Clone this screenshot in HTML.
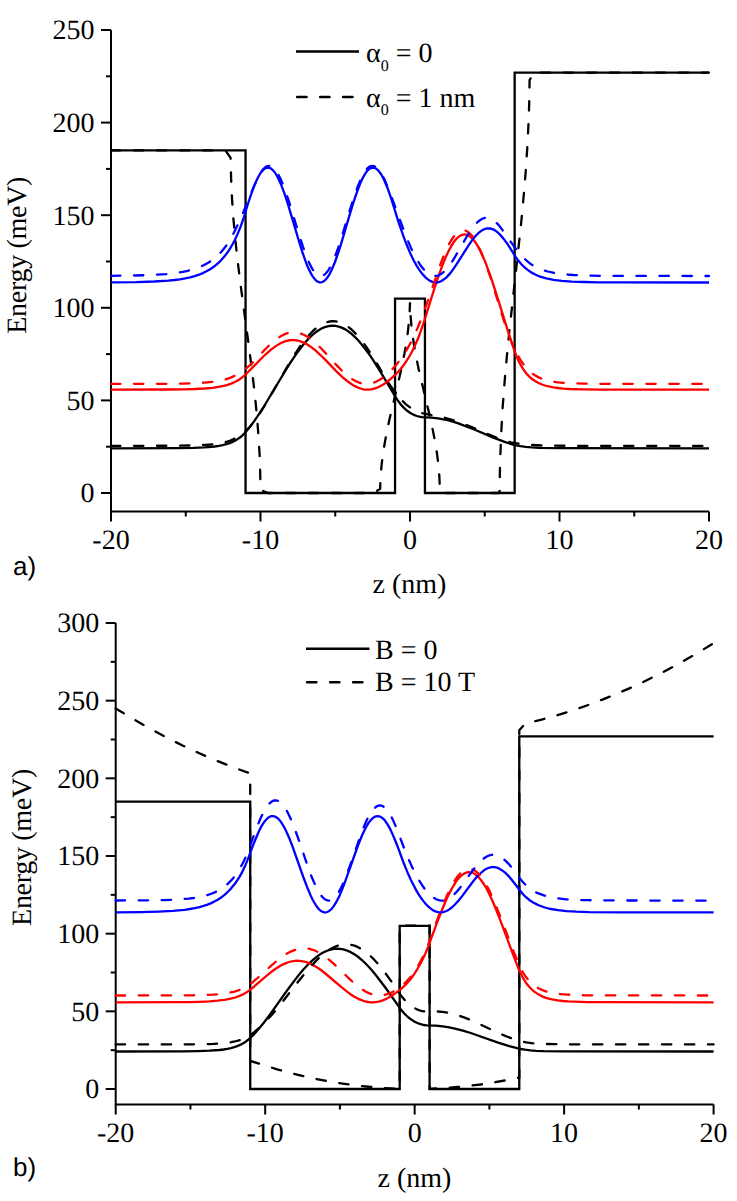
<!DOCTYPE html>
<html><head><meta charset="utf-8"><style>
html,body{margin:0;padding:0;background:#fff;}
svg{display:block;}
.t{text-rendering:geometricPrecision;font-family:"Liberation Serif",serif;font-size:28px;fill:#000;}
.s{text-rendering:geometricPrecision;font-family:"Liberation Sans",sans-serif;font-size:26px;fill:#000;}
</style></head><body>
<svg width="737" height="1201" viewBox="0 0 737 1201">
<rect width="737" height="1201" fill="#fff"/>
<path d="M111.00,30.00 L111.00,511.52 L709.00,511.52" fill="none" stroke="#000" stroke-width="2"/>
<line x1="101.00" y1="493.00" x2="111.00" y2="493.00" stroke="#000" stroke-width="2"/>
<text x="94.50" y="502.30" text-anchor="end" class="t">0</text>
<line x1="106.00" y1="446.70" x2="111.00" y2="446.70" stroke="#000" stroke-width="2"/>
<line x1="101.00" y1="400.40" x2="111.00" y2="400.40" stroke="#000" stroke-width="2"/>
<text x="94.50" y="409.70" text-anchor="end" class="t">50</text>
<line x1="106.00" y1="354.10" x2="111.00" y2="354.10" stroke="#000" stroke-width="2"/>
<line x1="101.00" y1="307.80" x2="111.00" y2="307.80" stroke="#000" stroke-width="2"/>
<text x="94.50" y="317.10" text-anchor="end" class="t">100</text>
<line x1="106.00" y1="261.50" x2="111.00" y2="261.50" stroke="#000" stroke-width="2"/>
<line x1="101.00" y1="215.20" x2="111.00" y2="215.20" stroke="#000" stroke-width="2"/>
<text x="94.50" y="224.50" text-anchor="end" class="t">150</text>
<line x1="106.00" y1="168.90" x2="111.00" y2="168.90" stroke="#000" stroke-width="2"/>
<line x1="101.00" y1="122.60" x2="111.00" y2="122.60" stroke="#000" stroke-width="2"/>
<text x="94.50" y="131.90" text-anchor="end" class="t">200</text>
<line x1="106.00" y1="76.30" x2="111.00" y2="76.30" stroke="#000" stroke-width="2"/>
<line x1="101.00" y1="30.00" x2="111.00" y2="30.00" stroke="#000" stroke-width="2"/>
<text x="94.50" y="39.30" text-anchor="end" class="t">250</text>
<line x1="111.00" y1="511.52" x2="111.00" y2="521.52" stroke="#000" stroke-width="2"/>
<text x="111.00" y="549.00" text-anchor="middle" class="t">-20</text>
<line x1="260.50" y1="511.52" x2="260.50" y2="521.52" stroke="#000" stroke-width="2"/>
<text x="260.50" y="549.00" text-anchor="middle" class="t">-10</text>
<line x1="410.00" y1="511.52" x2="410.00" y2="521.52" stroke="#000" stroke-width="2"/>
<text x="410.00" y="549.00" text-anchor="middle" class="t">0</text>
<line x1="559.50" y1="511.52" x2="559.50" y2="521.52" stroke="#000" stroke-width="2"/>
<text x="559.50" y="549.00" text-anchor="middle" class="t">10</text>
<line x1="709.00" y1="511.52" x2="709.00" y2="521.52" stroke="#000" stroke-width="2"/>
<text x="709.00" y="549.00" text-anchor="middle" class="t">20</text>
<line x1="185.75" y1="511.52" x2="185.75" y2="516.52" stroke="#000" stroke-width="2"/>
<line x1="335.25" y1="511.52" x2="335.25" y2="516.52" stroke="#000" stroke-width="2"/>
<line x1="484.75" y1="511.52" x2="484.75" y2="516.52" stroke="#000" stroke-width="2"/>
<line x1="634.25" y1="511.52" x2="634.25" y2="516.52" stroke="#000" stroke-width="2"/>
<path d="M111.00,150.38 L245.55,150.38 L245.55,493.00 L395.05,493.00 L395.05,298.54 L424.95,298.54 L424.95,493.00 L514.65,493.00 L514.65,72.60 L709.00,72.60" fill="none" stroke="#000" stroke-width="2.3" stroke-linejoin="miter"/>
<path d="M111.0,150.4L225.4,150.4L230.6,157.8L231.1,178.3L232.1,200.0L233.5,219.7L235.6,242.2L237.8,262.1L240.2,281.9L249.0,347.3L252.3,372.8L254.9,395.5L256.9,415.3L258.4,435.0L259.6,454.4L260.2,472.7L260.5,489.9L268.0,493.0L373.7,493.0L380.1,488.9L380.6,477.2L381.6,464.8L383.0,453.7L385.1,440.9L387.3,429.6L389.7,418.3L398.5,381.3L401.8,366.8L404.4,353.9L406.4,342.7L407.9,331.5L408.9,322.0L409.6,312.9L410.0,302.2L410.4,312.9L411.2,323.6L412.3,333.1L413.9,344.3L415.9,355.5L418.5,368.4L421.5,381.3L430.3,418.3L432.7,429.6L434.6,439.3L436.8,452.1L438.2,463.2L439.3,475.7L439.8,486.8L441.4,493.0L498.2,493.0L499.7,491.1L499.8,476.0L500.1,462.0L501.1,435.5L502.6,408.0L505.0,376.8L506.9,356.0L509.3,331.6L518.1,251.4L521.1,223.6L523.7,195.7L525.7,171.4L527.3,147.3L528.5,123.4L529.2,103.6L529.6,80.0L533.8,72.6L709.0,72.6" fill="none" stroke="#000" stroke-width="2.3" stroke-dasharray="9.4,13.6" stroke-linecap="round"/>
<path d="M111.0,448.3L178.0,448.1L193.4,447.9L204.7,447.4L214.6,446.5L218.8,445.9L222.7,445.1L226.3,444.2L229.6,443.1L232.5,441.9L235.4,440.5L237.6,439.1L239.9,437.5L242.0,435.8L244.1,433.8L246.1,431.5L249.0,428.1L254.4,420.9L259.3,413.7L264.8,405.0L283.4,374.0L290.5,362.5L294.3,356.9L297.9,351.7L301.3,347.2L304.6,343.1L308.3,338.9L311.9,335.4L315.5,332.4L319.0,330.0L322.4,328.1L325.8,326.8L329.3,326.0L332.6,325.7L335.5,325.9L338.7,326.6L341.7,327.6L344.8,329.1L348.0,331.1L351.1,333.5L354.2,336.3L357.5,339.6L361.1,343.7L364.7,348.2L368.4,353.2L372.5,359.1L380.8,372.4L395.6,397.2L397.6,400.1L399.7,403.0L401.6,405.4L403.7,407.6L405.8,409.6L407.9,411.3L410.0,412.7L412.2,414.1L414.5,415.1L416.9,416.0L419.4,416.7L422.1,417.2L431.1,417.6L438.1,418.3L444.5,419.5L451.3,421.2L458.3,423.4L466.1,426.3L473.7,429.3L493.4,437.6L504.6,441.9L510.6,443.8L516.0,445.3L520.5,446.2L525.6,446.9L531.7,447.4L538.9,447.8L559.2,448.2L709.0,448.3" fill="none" stroke="#000000" stroke-width="2.3"/>
<path d="M111.0,389.6L168.4,389.5L183.4,389.3L194.7,389.0L204.6,388.5L212.8,387.8L219.8,386.7L226.0,385.3L230.6,383.9L234.9,382.0L239.0,379.8L242.6,377.2L245.0,375.2L247.9,372.3L260.6,359.3L265.7,354.3L271.0,349.7L275.7,346.1L280.1,343.5L284.3,341.6L286.4,340.9L288.5,340.5L290.5,340.2L292.5,340.1L294.7,340.2L297.1,340.5L299.4,341.0L301.8,341.8L304.2,342.9L306.5,344.1L309.1,345.7L311.6,347.4L316.0,350.9L320.7,355.3L325.4,359.9L336.7,371.6L342.7,377.3L345.9,380.0L348.9,382.3L351.7,384.3L354.4,385.9L357.5,387.4L360.5,388.5L363.5,389.3L366.3,389.6L369.2,389.6L372.2,389.2L375.2,388.4L378.2,387.3L382.3,385.1L386.7,382.2L391.3,378.4L396.4,373.7L400.0,369.8L403.4,365.5L406.7,360.7L409.9,355.5L412.7,350.2L415.4,344.5L418.1,338.2L420.6,331.7L423.9,322.1L432.6,294.1L437.5,279.0L442.3,265.7L444.5,260.0L446.6,255.2L449.0,250.2L451.3,246.1L453.5,242.5L455.7,239.6L458.0,237.3L460.1,235.8L462.3,234.8L464.4,234.5L466.4,234.7L468.5,235.5L470.4,236.8L472.5,238.8L474.6,241.3L476.7,244.4L478.8,247.9L481.0,252.3L483.4,257.6L485.8,263.4L488.3,270.1L491.2,278.1L496.4,294.1L509.9,337.3L514.2,350.1L516.9,357.2L518.8,361.5L520.8,365.2L522.9,368.7L525.0,371.7L527.2,374.4L529.6,376.9L532.1,379.0L535.0,381.0L538.1,382.8L541.4,384.3L545.0,385.5L548.9,386.5L553.2,387.4L558.0,388.0L563.4,388.6L569.7,389.0L582.5,389.4L601.4,389.6L709.0,389.6" fill="none" stroke="#ff0000" stroke-width="2.3"/>
<path d="M111.0,282.3L136.1,282.1L154.1,281.5L168.3,280.6L174.4,280.0L179.9,279.3L185.2,278.4L190.1,277.3L194.7,276.1L198.9,274.7L202.8,273.1L206.5,271.3L210.1,269.3L213.4,267.0L216.1,264.9L218.8,262.6L221.3,260.0L223.7,257.3L226.1,254.3L228.4,251.1L230.6,247.6L232.7,244.0L234.8,240.0L236.9,235.6L238.8,231.1L240.8,226.1L243.8,217.5L248.2,203.0L251.1,194.3L253.9,186.6L256.5,180.6L258.0,177.5L259.5,174.8L260.9,172.5L262.3,170.8L263.8,169.4L265.1,168.4L266.6,167.8L268.0,167.6L269.6,167.9L271.3,168.8L272.9,170.2L274.6,172.1L276.2,174.5L277.8,177.5L279.6,181.2L281.4,185.4L284.4,193.4L287.7,203.4L298.5,239.7L302.2,251.6L305.9,262.2L307.7,266.7L309.4,270.4L311.2,273.9L312.8,276.6L314.5,278.8L316.1,280.6L317.8,281.7L319.4,282.3L320.9,282.4L322.5,282.0L324.0,281.1L325.5,279.8L327.0,278.0L328.5,275.9L330.0,273.3L331.5,270.3L334.8,262.5L337.6,254.6L340.8,244.9L350.6,211.6L354.2,200.0L357.7,190.0L360.8,182.1L362.5,178.6L364.0,175.7L365.4,173.3L366.9,171.3L368.4,169.7L369.9,168.5L371.4,167.9L372.9,167.6L374.4,167.8L375.9,168.5L377.4,169.6L378.9,171.2L380.4,173.2L381.9,175.6L383.4,178.4L385.0,182.0L387.6,188.2L390.3,195.8L392.8,203.6L398.6,222.4L403.6,236.7L406.3,243.8L408.8,249.9L411.3,255.6L413.9,260.7L416.3,265.1L418.5,268.7L420.9,272.1L423.2,274.9L425.5,277.4L427.9,279.4L430.2,280.9L432.4,281.9L434.2,282.3L435.9,282.5L437.5,282.3L439.3,281.9L441.1,281.2L442.9,280.1L444.7,278.8L446.5,277.3L450.1,273.4L454.0,268.2L457.8,262.4L468.6,245.3L472.0,240.4L475.0,236.6L476.8,234.7L478.6,232.9L480.3,231.6L481.9,230.4L483.6,229.5L485.2,228.9L486.8,228.5L488.5,228.4L490.0,228.5L491.5,228.8L493.0,229.4L494.5,230.1L496.0,231.1L497.6,232.3L500.7,235.4L503.7,238.9L506.9,243.2L510.3,248.4L515.5,256.7L517.9,260.1L521.4,264.3L525.1,267.9L527.4,269.7L529.6,271.3L532.1,272.9L534.7,274.2L537.4,275.5L540.2,276.6L546.3,278.4L553.5,279.8L561.9,280.8L571.9,281.6L584.5,282.0L598.5,282.3L618.1,282.4L709.0,282.5" fill="none" stroke="#0000ff" stroke-width="2.3"/>
<path d="M111.0,445.9L178.7,445.7L194.3,445.4L205.6,444.9L210.9,444.5L215.7,444.0L219.8,443.3L223.7,442.5L227.2,441.6L230.5,440.5L233.6,439.1L236.6,437.6L239.3,435.9L242.0,434.0L244.5,432.0L247.0,429.6L249.6,427.0L252.0,424.3L254.4,421.3L256.8,418.0L261.2,411.2L266.8,402.2L285.2,370.2L292.3,358.1L296.1,352.3L299.7,347.0L303.1,342.2L306.4,338.1L309.8,334.2L313.3,330.7L316.7,327.7L320.0,325.4L323.3,323.6L326.6,322.2L329.9,321.5L333.0,321.2L336.0,321.4L339.0,322.1L342.0,323.2L345.0,324.7L348.0,326.7L351.1,329.2L354.2,332.1L357.4,335.4L360.2,338.8L363.2,342.6L366.3,346.9L369.5,351.6L375.6,361.3L387.1,380.6L390.6,385.9L393.9,390.7L397.9,395.9L401.8,400.3L405.7,404.1L409.6,407.1L412.4,408.9L415.4,410.5L418.7,411.9L422.3,413.1L428.8,414.7L440.3,416.8L445.0,417.8L451.1,419.5L457.5,421.6L468.6,425.9L492.8,436.1L498.4,438.3L503.0,439.9L507.0,441.2L511.2,442.3L515.4,443.1L519.9,443.9L524.5,444.5L529.6,444.9L541.6,445.5L554.6,445.7L574.2,445.8L709.0,445.9" fill="none" stroke="#000000" stroke-width="2.3" stroke-dasharray="9.4,13.6" stroke-linecap="round"/>
<path d="M111.0,383.9L167.8,383.8L182.8,383.6L194.1,383.3L204.1,382.7L212.4,381.9L219.4,380.8L225.5,379.4L230.7,377.6L235.8,375.3L240.8,372.4L245.6,369.0L249.4,365.7L253.3,362.0L264.7,349.8L269.5,345.0L273.8,341.1L278.0,337.9L282.0,335.4L285.9,333.7L289.7,332.7L291.6,332.4L293.4,332.3L295.6,332.4L297.9,332.7L300.1,333.3L302.5,334.2L304.8,335.2L307.1,336.6L309.5,338.1L312.1,340.0L316.3,343.6L320.9,348.2L325.4,352.9L336.3,364.9L342.1,370.9L345.1,373.7L348.0,376.1L350.6,378.1L353.3,379.8L356.3,381.4L359.2,382.6L362.0,383.4L364.7,383.8L367.4,383.9L370.2,383.6L373.1,382.9L375.9,381.8L379.8,379.8L383.8,377.1L387.9,373.7L392.1,369.6L396.1,365.0L400.1,359.8L404.0,354.1L407.8,348.0L410.9,342.3L414.2,335.5L417.5,328.1L420.8,320.1L423.9,311.8L427.3,302.3L440.5,264.1L443.8,255.6L446.9,248.4L449.0,244.2L451.1,240.5L453.2,237.3L455.3,234.7L457.4,232.7L459.3,231.4L461.3,230.6L463.2,230.3L465.3,230.6L466.4,231.0L467.6,231.7L469.7,233.3L471.9,235.7L474.1,238.7L476.4,242.4L478.6,246.7L481.0,251.9L485.2,262.3L489.7,275.1L494.3,289.6L502.8,317.5L506.7,329.2L509.0,335.4L511.2,341.2L513.5,346.4L515.7,351.2L517.9,355.5L520.2,359.4L522.4,362.8L524.8,366.0L527.2,368.8L529.7,371.4L532.3,373.5L535.0,375.3L538.1,377.1L541.4,378.5L545.0,379.8L548.9,380.8L553.2,381.6L558.0,382.3L563.5,382.8L569.8,383.2L582.8,383.6L601.7,383.8L709.0,383.9" fill="none" stroke="#ff0000" stroke-width="2.3" stroke-dasharray="9.4,13.6" stroke-linecap="round"/>
<path d="M111.0,275.8L134.8,275.5L152.3,275.0L166.2,274.1L172.1,273.5L177.7,272.7L182.9,271.9L187.8,270.8L192.3,269.6L196.5,268.3L200.4,266.8L204.1,265.0L207.7,263.1L211.0,260.9L213.6,259.1L216.1,257.0L218.5,254.7L220.9,252.3L223.1,249.7L225.4,246.8L227.5,243.8L229.6,240.6L233.9,232.8L238.7,222.8L243.3,212.2L253.6,187.1L256.5,180.8L258.9,176.0L261.5,171.4L262.9,169.6L264.1,168.3L265.4,167.1L266.6,166.4L267.8,166.0L269.0,165.8L270.5,166.1L272.2,166.8L273.8,168.1L275.4,170.0L277.1,172.3L278.7,175.2L280.5,178.8L282.3,182.9L285.3,190.7L288.6,200.4L299.1,234.8L303.0,246.8L306.5,256.7L308.3,261.1L310.0,264.6L311.6,267.7L313.3,270.4L314.9,272.6L316.6,274.2L318.2,275.3L319.7,275.9L321.2,276.0L322.8,275.5L324.2,274.8L325.7,273.5L327.2,271.8L328.7,269.7L330.2,267.2L331.7,264.3L335.0,256.7L337.8,249.0L340.8,240.0L350.5,208.0L354.1,196.7L357.4,187.4L360.5,179.7L362.2,176.3L363.7,173.5L365.1,171.2L366.6,169.2L368.1,167.7L369.6,166.6L371.1,166.0L372.5,165.8L373.8,166.0L375.3,166.6L376.8,167.7L378.3,169.2L379.8,171.2L381.3,173.5L382.9,176.5L384.6,179.8L387.4,186.3L390.6,194.2L401.8,225.0L406.4,237.2L411.0,248.0L413.3,252.7L415.5,257.0L417.6,260.7L419.7,264.1L421.8,267.0L423.9,269.6L426.0,271.7L427.9,273.4L429.9,274.6L431.8,275.4L433.5,275.9L435.1,276.0L436.8,275.8L438.6,275.3L440.2,274.5L442.0,273.4L443.6,272.0L445.4,270.3L448.9,266.2L452.8,260.6L456.6,254.2L467.1,236.0L470.4,230.9L473.4,226.8L475.2,224.6L477.0,222.7L478.6,221.2L480.3,220.0L481.9,219.0L483.6,218.3L485.2,217.9L486.7,217.8L487.9,217.9L489.2,218.1L490.6,218.6L491.9,219.2L494.6,221.1L497.5,223.8L499.6,226.2L501.8,229.1L511.7,243.2L516.6,249.8L521.7,255.8L524.2,258.4L526.6,260.6L529.0,262.6L531.2,264.3L533.6,265.8L536.2,267.2L538.9,268.5L541.6,269.6L544.5,270.6L547.7,271.5L554.9,273.1L563.4,274.2L573.4,275.0L586.0,275.5L600.2,275.8L619.6,275.9L709.0,276.0" fill="none" stroke="#0000ff" stroke-width="2.3" stroke-dasharray="9.4,13.6" stroke-linecap="round"/>
<path d="M115.70,623.00 L115.70,1104.53 L713.60,1104.53" fill="none" stroke="#000" stroke-width="2"/>
<line x1="105.70" y1="1089.00" x2="115.70" y2="1089.00" stroke="#000" stroke-width="2"/>
<text x="99.20" y="1098.30" text-anchor="end" class="t">0</text>
<line x1="110.70" y1="1050.17" x2="115.70" y2="1050.17" stroke="#000" stroke-width="2"/>
<line x1="105.70" y1="1011.33" x2="115.70" y2="1011.33" stroke="#000" stroke-width="2"/>
<text x="99.20" y="1020.63" text-anchor="end" class="t">50</text>
<line x1="110.70" y1="972.50" x2="115.70" y2="972.50" stroke="#000" stroke-width="2"/>
<line x1="105.70" y1="933.67" x2="115.70" y2="933.67" stroke="#000" stroke-width="2"/>
<text x="99.20" y="942.97" text-anchor="end" class="t">100</text>
<line x1="110.70" y1="894.83" x2="115.70" y2="894.83" stroke="#000" stroke-width="2"/>
<line x1="105.70" y1="856.00" x2="115.70" y2="856.00" stroke="#000" stroke-width="2"/>
<text x="99.20" y="865.30" text-anchor="end" class="t">150</text>
<line x1="110.70" y1="817.17" x2="115.70" y2="817.17" stroke="#000" stroke-width="2"/>
<line x1="105.70" y1="778.33" x2="115.70" y2="778.33" stroke="#000" stroke-width="2"/>
<text x="99.20" y="787.63" text-anchor="end" class="t">200</text>
<line x1="110.70" y1="739.50" x2="115.70" y2="739.50" stroke="#000" stroke-width="2"/>
<line x1="105.70" y1="700.67" x2="115.70" y2="700.67" stroke="#000" stroke-width="2"/>
<text x="99.20" y="709.97" text-anchor="end" class="t">250</text>
<line x1="110.70" y1="661.83" x2="115.70" y2="661.83" stroke="#000" stroke-width="2"/>
<line x1="105.70" y1="623.00" x2="115.70" y2="623.00" stroke="#000" stroke-width="2"/>
<text x="99.20" y="632.30" text-anchor="end" class="t">300</text>
<line x1="115.70" y1="1104.53" x2="115.70" y2="1114.53" stroke="#000" stroke-width="2"/>
<text x="115.70" y="1142.00" text-anchor="middle" class="t">-20</text>
<line x1="265.18" y1="1104.53" x2="265.18" y2="1114.53" stroke="#000" stroke-width="2"/>
<text x="265.18" y="1142.00" text-anchor="middle" class="t">-10</text>
<line x1="414.65" y1="1104.53" x2="414.65" y2="1114.53" stroke="#000" stroke-width="2"/>
<text x="414.65" y="1142.00" text-anchor="middle" class="t">0</text>
<line x1="564.12" y1="1104.53" x2="564.12" y2="1114.53" stroke="#000" stroke-width="2"/>
<text x="564.12" y="1142.00" text-anchor="middle" class="t">10</text>
<line x1="713.60" y1="1104.53" x2="713.60" y2="1114.53" stroke="#000" stroke-width="2"/>
<text x="713.60" y="1142.00" text-anchor="middle" class="t">20</text>
<line x1="190.44" y1="1104.53" x2="190.44" y2="1109.53" stroke="#000" stroke-width="2"/>
<line x1="339.91" y1="1104.53" x2="339.91" y2="1109.53" stroke="#000" stroke-width="2"/>
<line x1="489.39" y1="1104.53" x2="489.39" y2="1109.53" stroke="#000" stroke-width="2"/>
<line x1="638.86" y1="1104.53" x2="638.86" y2="1109.53" stroke="#000" stroke-width="2"/>
<path d="M115.70,801.63 L250.23,801.63 L250.23,1089.00 L399.70,1089.00 L399.70,925.90 L429.60,925.90 L429.60,1089.00 L519.28,1089.00 L519.28,736.39 L713.60,736.39" fill="none" stroke="#000" stroke-width="2.3" stroke-linejoin="miter"/>
<path d="M115.7,708.4L132.1,718.4L150.1,728.6L166.5,737.4L183.0,745.7L199.4,753.3L215.8,760.4L232.3,767.0L250.2,773.4L250.2,1060.8L268.2,1066.6L277.1,1069.3L287.6,1072.2L298.1,1074.8L307.0,1076.9L316.0,1078.9L325.0,1080.6L335.4,1082.5L344.4,1083.9L353.4,1085.1L362.3,1086.1L371.3,1087.0L380.3,1087.8L390.7,1088.4L399.7,1088.8L399.7,925.7L429.6,925.7L429.6,1088.8L438.6,1088.4L449.0,1087.8L458.0,1087.0L467.0,1086.1L480.4,1084.5L493.9,1082.5L507.3,1080.0L519.3,1077.6L519.3,730.2L525.3,723.6L538.7,720.3L552.2,716.7L564.1,713.1L577.6,708.7L591.0,704.0L603.0,699.4L616.4,693.9L629.9,688.1L640.4,683.3L650.8,678.2L661.3,673.0L671.7,667.5L682.2,661.7L692.7,655.8L703.1,649.6L713.6,643.2" fill="none" stroke="#000" stroke-width="2.3" stroke-dasharray="9.4,13.6" stroke-linecap="round"/>
<path d="M115.7,1051.5L182.7,1051.4L198.1,1051.1L209.4,1050.7L219.3,1050.0L223.5,1049.5L227.4,1048.8L230.9,1048.1L234.2,1047.2L237.2,1046.1L240.1,1044.9L242.3,1043.8L244.5,1042.5L246.6,1041.0L248.7,1039.4L253.7,1034.6L259.0,1028.5L264.0,1022.5L269.5,1015.2L288.0,989.2L295.2,979.6L299.0,974.8L302.5,970.5L306.0,966.7L309.3,963.3L313.0,959.8L316.6,956.8L320.2,954.3L323.6,952.3L327.1,950.7L330.5,949.6L333.9,948.9L337.2,948.7L340.2,948.9L343.4,949.4L346.3,950.3L349.5,951.6L352.6,953.2L355.8,955.2L358.9,957.5L362.2,960.3L365.8,963.8L369.4,967.5L373.1,971.8L377.1,976.7L385.5,987.8L400.3,1008.6L402.2,1011.1L404.3,1013.5L406.3,1015.5L408.4,1017.4L410.5,1019.0L412.6,1020.4L414.6,1021.7L416.9,1022.8L419.1,1023.7L421.5,1024.4L424.1,1025.0L426.8,1025.4L435.7,1025.7L442.8,1026.4L449.2,1027.4L455.9,1028.8L462.9,1030.7L470.7,1033.0L498.1,1042.6L509.3,1046.1L515.2,1047.7L520.6,1049.0L525.1,1049.7L530.2,1050.3L536.3,1050.8L543.5,1051.1L563.8,1051.4L713.6,1051.5" fill="none" stroke="#000000" stroke-width="2.3"/>
<path d="M115.7,1002.3L173.1,1002.2L188.0,1002.1L199.4,1001.8L209.3,1001.4L217.5,1000.7L224.5,999.9L230.6,998.7L235.3,997.5L239.6,995.9L243.7,994.0L247.2,991.9L249.6,990.2L252.6,987.8L265.3,976.8L270.4,972.7L275.6,968.8L280.4,965.8L284.8,963.6L288.9,962.0L293.1,961.1L297.2,960.7L299.4,960.8L301.8,961.1L304.0,961.5L306.4,962.2L308.8,963.1L311.2,964.1L316.3,966.9L320.6,969.8L325.4,973.5L341.4,987.1L347.4,991.9L350.5,994.2L353.5,996.2L356.4,997.8L359.0,999.2L362.2,1000.4L365.2,1001.4L368.2,1002.0L371.0,1002.3L373.8,1002.3L376.8,1001.9L379.8,1001.3L382.8,1000.3L387.0,998.5L391.3,996.0L396.0,992.9L401.0,989.0L404.6,985.7L408.1,982.0L411.4,978.0L414.5,973.7L417.3,969.2L420.0,964.5L422.7,959.2L425.3,953.7L428.6,945.6L437.2,922.2L442.2,909.5L446.9,898.3L451.3,889.6L453.7,885.4L455.9,881.9L458.1,878.9L460.4,876.5L462.6,874.6L464.7,873.3L467.0,872.4L469.1,872.2L471.0,872.4L473.1,873.0L475.0,874.1L477.1,875.8L479.2,877.9L481.3,880.5L483.4,883.5L485.7,887.1L488.0,891.6L490.4,896.4L493.0,902.0L495.8,908.8L501.0,922.2L514.5,958.4L518.8,969.2L521.5,975.1L523.5,978.7L525.4,981.8L527.5,984.8L529.6,987.2L531.8,989.5L534.2,991.6L536.8,993.4L539.6,995.1L542.8,996.6L546.0,997.8L549.6,998.8L553.5,999.7L557.8,1000.4L562.6,1001.0L568.0,1001.4L574.3,1001.7L587.1,1002.1L606.0,1002.2L713.6,1002.3" fill="none" stroke="#ff0000" stroke-width="2.3"/>
<path d="M115.7,912.3L140.8,912.1L158.7,911.6L172.9,910.9L184.6,909.8L189.8,909.0L194.8,908.1L199.4,907.1L203.6,905.9L207.5,904.6L211.2,903.1L214.8,901.3L218.1,899.5L220.8,897.7L223.5,895.7L226.0,893.6L228.4,891.3L230.8,888.8L233.0,886.1L235.3,883.2L237.4,880.2L239.5,876.8L241.6,873.1L243.5,869.3L245.4,865.1L248.4,857.9L252.9,845.7L255.8,838.5L258.6,832.0L261.1,826.9L262.6,824.4L264.1,822.1L265.6,820.2L267.0,818.8L268.5,817.5L269.8,816.8L271.3,816.2L272.6,816.1L274.3,816.3L275.9,817.1L277.6,818.2L279.2,819.8L280.9,821.9L282.5,824.3L284.3,827.5L286.1,831.0L289.1,837.7L292.4,846.1L303.1,876.5L306.9,886.5L310.6,895.4L312.4,899.2L314.1,902.3L315.8,905.2L317.5,907.5L319.1,909.4L320.8,910.8L322.4,911.8L324.1,912.3L325.6,912.4L327.2,912.0L328.7,911.3L330.2,910.2L331.7,908.7L333.2,906.9L334.7,904.7L336.2,902.2L339.5,895.7L342.3,889.1L345.4,880.9L355.3,853.0L358.9,843.2L362.3,834.8L365.5,828.2L367.1,825.3L368.6,822.9L370.1,820.9L371.6,819.2L373.1,817.8L374.6,816.9L376.1,816.3L377.6,816.1L379.1,816.3L380.6,816.8L382.1,817.8L383.6,819.1L385.1,820.8L386.5,822.8L388.0,825.2L389.7,828.1L392.2,833.4L394.9,839.7L397.5,846.2L403.3,862.0L408.2,874.1L410.9,880.0L413.5,885.1L416.0,889.9L418.5,894.2L420.9,897.8L423.2,900.9L425.6,903.8L427.8,906.1L430.2,908.2L432.6,909.9L434.8,911.1L437.1,911.9L438.9,912.3L440.5,912.4L442.2,912.3L443.9,912.0L445.7,911.3L447.5,910.5L449.3,909.4L451.1,908.0L454.7,904.8L458.6,900.5L462.5,895.6L473.2,881.2L476.7,877.1L479.7,874.0L483.3,870.9L484.9,869.7L486.5,868.8L488.2,868.0L489.8,867.5L491.5,867.2L493.1,867.0L494.6,867.1L496.1,867.4L497.6,867.9L499.1,868.5L502.2,870.4L505.4,872.9L508.4,875.9L511.5,879.5L514.9,883.8L520.2,890.8L522.6,893.7L526.0,897.2L529.7,900.2L532.0,901.7L534.2,903.1L536.8,904.4L539.3,905.5L544.8,907.5L551.0,909.0L558.1,910.2L566.5,911.1L576.5,911.7L589.1,912.1L622.7,912.4L713.6,912.4" fill="none" stroke="#0000ff" stroke-width="2.3"/>
<path d="M115.7,1044.4L187.4,1044.4L202.7,1044.2L213.8,1043.9L223.5,1043.2L231.4,1042.2L234.8,1041.5L238.1,1040.7L241.1,1039.7L243.8,1038.7L246.5,1037.4L248.9,1036.0L251.6,1034.1L254.6,1031.8L257.7,1029.2L260.8,1026.3L267.6,1019.5L273.2,1013.2L279.4,1005.8L299.1,980.5L306.1,971.8L313.2,963.9L316.4,960.4L319.6,957.4L323.2,954.3L326.6,951.6L330.0,949.3L333.3,947.5L336.6,946.1L339.8,945.1L343.1,944.5L346.2,944.3L349.2,944.5L352.2,945.0L355.2,945.9L358.1,947.2L361.1,948.8L364.1,950.8L367.3,953.2L370.4,955.9L373.5,959.0L376.7,962.4L380.0,966.3L383.4,970.6L390.6,980.3L400.7,995.1L403.6,998.8L406.1,1001.6L408.8,1004.1L411.7,1006.3L414.5,1008.1L416.7,1009.2L419.0,1010.1L421.2,1010.8L423.6,1011.3L427.5,1011.6L432.9,1011.4L436.5,1011.4L442.3,1011.8L446.0,1012.3L449.9,1013.1L453.8,1014.0L457.8,1015.2L464.7,1017.6L472.3,1020.7L479.5,1024.0L496.4,1032.0L504.9,1035.7L512.9,1038.8L520.0,1041.1L526.2,1042.4L533.3,1043.3L542.3,1043.9L554.0,1044.2L585.2,1044.4L713.6,1044.4" fill="none" stroke="#000000" stroke-width="2.3" stroke-dasharray="9.4,13.6" stroke-linecap="round"/>
<path d="M115.7,995.5L177.4,995.4L192.2,995.3L203.3,995.0L213.0,994.6L220.9,994.0L227.8,993.0L233.6,991.8L238.0,990.5L242.0,989.0L245.7,987.1L249.2,984.9L252.8,982.1L257.0,978.5L270.7,966.1L275.9,961.6L281.2,957.5L286.0,954.2L290.7,951.6L295.2,949.8L297.5,949.1L299.6,948.7L301.8,948.4L303.9,948.3L306.3,948.4L308.7,948.7L311.1,949.3L313.5,950.0L315.8,951.0L318.4,952.2L320.9,953.7L323.6,955.5L328.1,958.9L333.0,963.1L337.7,967.5L348.9,978.4L354.7,983.7L357.7,986.1L360.5,988.3L363.2,990.1L365.9,991.7L368.9,993.1L371.8,994.2L374.6,994.9L377.3,995.4L380.0,995.5L382.8,995.3L385.5,994.7L388.3,993.9L391.9,992.4L395.7,990.3L399.7,987.5L403.1,984.7L406.4,981.6L409.6,978.1L412.6,974.3L415.5,969.9L418.2,965.5L420.8,960.9L423.3,955.8L425.7,950.4L428.9,942.6L437.7,918.6L442.5,906.2L447.1,895.2L451.4,886.3L453.8,882.0L456.1,878.5L458.3,875.5L460.5,873.1L462.8,871.1L464.9,869.8L467.1,869.0L469.2,868.8L471.2,869.0L473.1,869.7L475.0,870.8L477.1,872.4L479.1,874.4L481.2,876.9L483.3,879.9L485.4,883.3L487.6,887.3L490.0,892.1L492.5,897.6L495.2,903.9L500.3,916.6L513.9,952.3L518.2,962.7L521.2,969.2L523.0,972.5L525.0,975.6L527.1,978.5L529.1,980.9L531.4,983.2L533.8,985.2L536.3,987.0L539.0,988.5L542.0,989.9L545.3,991.2L548.7,992.1L552.6,993.0L556.8,993.7L561.6,994.2L567.0,994.6L573.2,995.0L585.8,995.3L604.2,995.4L713.6,995.5" fill="none" stroke="#ff0000" stroke-width="2.3" stroke-dasharray="9.4,13.6" stroke-linecap="round"/>
<path d="M115.7,900.5L144.5,900.4L163.2,900.1L177.4,899.6L188.6,898.6L193.7,898.0L198.5,897.2L202.8,896.3L206.9,895.2L210.6,894.0L214.2,892.6L217.6,890.9L220.8,889.1L223.3,887.4L225.9,885.4L228.3,883.4L230.6,881.0L232.9,878.5L235.0,875.9L237.1,873.0L239.0,870.0L242.8,863.3L246.3,855.6L248.9,849.2L254.0,834.9L257.3,826.2L260.4,818.7L263.4,812.5L265.0,809.6L266.5,807.2L268.2,805.0L269.7,803.3L271.2,802.0L272.6,801.1L274.1,800.5L275.6,800.4L277.1,800.6L278.6,801.1L280.1,802.1L281.6,803.4L283.1,805.1L284.6,807.1L286.1,809.5L287.7,812.5L291.0,819.5L294.6,828.5L298.4,838.8L308.5,868.5L311.8,877.2L314.7,883.9L316.4,887.7L318.1,890.8L319.7,893.5L321.2,895.6L322.9,897.5L324.4,898.9L326.0,899.9L327.5,900.4L329.0,900.6L330.5,900.3L332.0,899.6L333.5,898.6L335.0,897.1L336.6,895.1L338.1,893.0L339.8,890.2L343.1,883.5L346.6,874.8L350.4,864.6L360.7,835.1L363.8,827.0L366.8,820.1L368.6,816.6L370.3,813.7L371.9,811.2L373.5,809.1L375.2,807.5L376.8,806.3L378.5,805.6L380.0,805.5L381.3,805.6L382.8,806.2L384.2,807.0L385.7,808.4L387.0,809.9L388.5,811.9L390.0,814.3L391.5,817.0L393.7,821.6L396.1,827.2L404.2,848.5L409.4,861.1L412.3,867.4L414.9,872.8L417.6,877.9L420.2,882.2L422.6,885.9L424.8,889.0L427.2,891.9L429.4,894.2L431.8,896.4L434.1,898.0L436.3,899.2L438.6,900.1L440.2,900.4L441.9,900.6L443.5,900.5L445.3,900.1L446.9,899.5L448.7,898.6L450.4,897.5L452.2,896.2L455.6,892.9L459.3,888.7L463.2,883.6L473.8,869.0L477.1,865.0L480.1,861.7L483.6,858.6L485.2,857.5L486.8,856.5L488.5,855.7L490.1,855.2L491.8,854.8L493.3,854.7L494.8,854.8L496.3,855.1L497.8,855.6L499.3,856.2L502.2,858.0L505.4,860.6L508.4,863.6L511.5,867.3L514.8,871.5L520.2,878.9L522.6,881.8L526.0,885.3L529.7,888.4L532.0,890.0L534.2,891.3L536.6,892.6L539.2,893.7L544.5,895.6L550.7,897.2L557.7,898.4L565.9,899.3L575.6,899.9L587.9,900.2L620.5,900.5L713.6,900.6" fill="none" stroke="#0000ff" stroke-width="2.3" stroke-dasharray="9.4,13.6" stroke-linecap="round"/>
<!-- panel a labels -->
<text class="t" letter-spacing="-0.3" transform="translate(25.5,255.3) rotate(-90)" text-anchor="middle">Energy (meV)</text>
<text class="t" x="409.5" y="593.3" text-anchor="middle">z (nm)</text>
<text class="s" x="13" y="575.4">a)</text>
<line x1="296" y1="51.5" x2="359" y2="51.5" stroke="#000" stroke-width="2.4"/>
<line x1="297.15" y1="97" x2="359" y2="97" stroke="#000" stroke-width="2.4" stroke-dasharray="9.4,13.6" stroke-linecap="round"/>
<text class="t" x="366" y="62">α<tspan font-size="16" dy="8.5">0</tspan><tspan dy="-8.5"> = 0</tspan></text>
<text class="t" x="366" y="106.5">α<tspan font-size="16" dy="8.5">0</tspan><tspan dy="-8.5"> = 1 nm</tspan></text>
<!-- panel b labels -->
<text class="t" letter-spacing="-0.3" transform="translate(31.2,847.5) rotate(-90)" text-anchor="middle">Energy (meV)</text>
<text class="t" x="414.4" y="1186.5" text-anchor="middle">z (nm)</text>
<text class="s" x="13" y="1176.2">b)</text>
<line x1="306" y1="648.8" x2="369.5" y2="648.8" stroke="#000" stroke-width="2.4"/>
<line x1="307.05" y1="682.3" x2="369.5" y2="682.3" stroke="#000" stroke-width="2.4" stroke-dasharray="9.4,13.6" stroke-linecap="round"/>
<text class="t" x="375" y="658.6">B = 0</text>
<text class="t" x="375" y="691">B = 10 T</text>

</svg>
</body></html>
